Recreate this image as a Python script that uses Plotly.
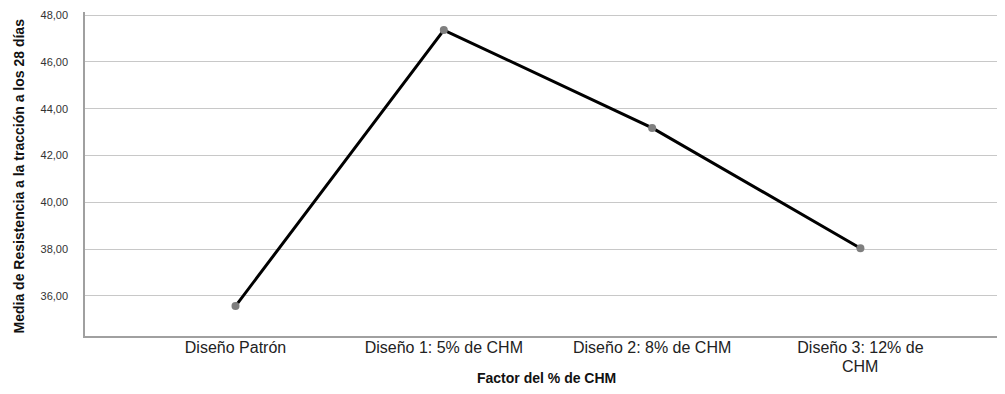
import plotly.graph_objects as go

categories = ["Diseño Patrón", "Diseño 1: 5% de CHM", "Diseño 2: 8% de CHM", "Diseño 3: 12% de"]
label_wrap = ["", "", "", "CHM"]  # second line of wrapped category labels
means = [35.57, 47.36, 43.18, 38.04]
y_ticks = [36, 38, 40, 42, 44, 46, 48]
y_tick_labels = ["36,00", "38,00", "40,00", "42,00", "44,00", "46,00", "48,00"]

xpos = list(range(len(categories)))

fig = go.Figure()
fig.add_trace(go.Scatter(
    x=xpos, y=means, mode="lines+markers",
    line=dict(color="black", width=3),
    marker=dict(color="#7f7f7f", size=8),
    showlegend=False,
))

annotations = [
    dict(text="<b>Factor del % de CHM</b>", xref="paper", yref="paper",
         x=0.502, y=0, xanchor="center", yanchor="middle", yshift=-42,
         showarrow=False, font=dict(size=14, color="#111")),
    dict(text="<b>Media de Resistencia a la tracción a los 28 días</b>", xref="paper", yref="paper",
         x=0, y=0.494, xanchor="center", yanchor="middle", xshift=-66.5,
         textangle=-90, showarrow=False, font=dict(size=14, color="#111")),
]
for xp, extra in zip(xpos, label_wrap):
    if extra:
        annotations.append(dict(text=extra, xref="x", yref="paper", x=xp, y=0,
                                xanchor="center", yanchor="middle", yshift=-30.5,
                                borderpad=0,
                                showarrow=False, font=dict(size=16, color="#222")))

# page body has an 8px default margin; size the figure to fit the window
fig.update_layout(
    width=997, height=386,
    margin=dict(l=77, r=0, t=4, b=58),
    paper_bgcolor="white", plot_bgcolor="white",
    font=dict(family="Liberation Sans, Arial, sans-serif", color="#222"),
    xaxis=dict(
        range=[-0.7225, 3.694],
        tickvals=xpos, ticktext=categories,
        showgrid=False, zeroline=False,
        showline=True, linecolor="#a0a0a0", linewidth=1.5,
        ticks="", tickfont=dict(size=16, color="#222"),
        ticklabelstandoff=-4,
        automargin=False,
    ),
    yaxis=dict(
        range=[34.29, 48.13],
        tickvals=y_ticks, ticktext=y_tick_labels,
        showgrid=True, gridcolor="#c8c8c8", gridwidth=1,
        zeroline=False,
        showline=True, linecolor="#a0a0a0", linewidth=1.5,
        ticks="", tickfont=dict(size=11, color="#333"),
        ticklabelstandoff=13,
        automargin=False,
    ),
    annotations=annotations,
)

fig.write_html("out.html")
